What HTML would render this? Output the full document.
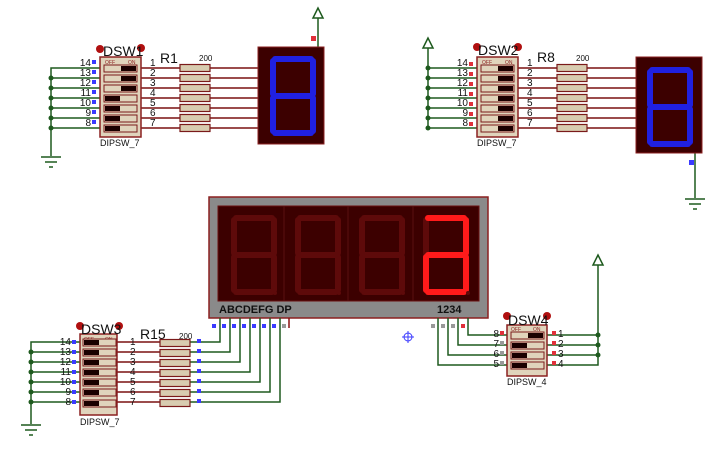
<!DOCTYPE html>
<html><head><meta charset="utf-8"><style>
html,body{margin:0;padding:0;background:#fff;width:720px;height:449px;overflow:hidden}
svg{display:block}
text{font-family:"Liberation Sans",sans-serif}
</style></head><body>
<svg width="720" height="449" viewBox="0 0 720 449" xmlns="http://www.w3.org/2000/svg">
<defs>
<g id="seg" fill="none" stroke-linecap="round">
<line x1="2" y1="0" x2="38" y2="0"/><line x1="40" y1="2" x2="40" y2="35"/><line x1="40" y1="39" x2="40" y2="72"/>
<line x1="2" y1="74" x2="38" y2="74"/><line x1="0" y1="39" x2="0" y2="72"/><line x1="0" y1="2" x2="0" y2="35"/>
<line x1="2" y1="37" x2="38" y2="37"/>
</g>
<g id="slotOn"><rect x="0" y="0" width="33" height="7" fill="#e0d4bc" stroke="#7a1a1a" stroke-width="1"/><rect x="17" y="1" width="15" height="5" fill="#1a0000"/></g>
<g id="slotOff"><rect x="0" y="0" width="33" height="7" fill="#e0d4bc" stroke="#7a1a1a" stroke-width="1"/><rect x="1" y="1" width="15" height="5" fill="#1a0000"/></g>
<g id="res"><rect x="0" y="-3.5" width="30" height="7" fill="#d8ccb0" stroke="#7a1a1a" stroke-width="1.2"/></g>
<g id="gnd" stroke="#1e5a1e" stroke-width="1.5"><line x1="-10" y1="0" x2="10" y2="0"/><line x1="-6" y1="5" x2="6" y2="5"/><line x1="-2" y1="10" x2="2" y2="10"/></g>
<g id="pwr" fill="none" stroke="#1e5a1e" stroke-width="1.5"><polygon points="0,-10 -5,0 5,0"/></g>
</defs>

<!-- ========== GROUP 1 ========== -->
<g stroke="#1e5a1e" stroke-width="1.5" fill="none">
<polyline points="100,68 51,68 51,156"/>
<line x1="51" y1="78" x2="100" y2="78"/><line x1="51" y1="88" x2="100" y2="88"/><line x1="51" y1="98" x2="100" y2="98"/>
<line x1="51" y1="108" x2="100" y2="108"/><line x1="51" y1="118" x2="100" y2="118"/><line x1="51" y1="128" x2="100" y2="128"/>
<line x1="318" y1="18" x2="318" y2="47"/>
</g>
<g fill="#1e5a1e"><circle cx="51" cy="78" r="2.5"/><circle cx="51" cy="88" r="2.5"/><circle cx="51" cy="98" r="2.5"/><circle cx="51" cy="108" r="2.5"/><circle cx="51" cy="118" r="2.5"/><circle cx="51" cy="128" r="2.5"/></g>
<use href="#gnd" x="51" y="157"/>
<use href="#pwr" x="318" y="18"/>
<rect x="311" y="36" width="5" height="5" fill="#e0303a"/>
<g stroke="#7a1010" stroke-width="1.5">
<line x1="141" y1="68" x2="258" y2="68"/><line x1="141" y1="78" x2="258" y2="78"/><line x1="141" y1="88" x2="258" y2="88"/>
<line x1="141" y1="98" x2="258" y2="98"/><line x1="141" y1="108" x2="258" y2="108"/><line x1="141" y1="118" x2="258" y2="118"/><line x1="141" y1="128" x2="258" y2="128"/>
</g>
<rect x="100" y="57" width="41" height="80" fill="#e0d4bc" stroke="#8b2020" stroke-width="1.5"/>
<text x="105" y="64" font-size="5" fill="#8b2020">OFF</text><text x="128" y="64" font-size="5" fill="#8b2020">ON</text>
<use href="#slotOn" x="104" y="65"/><use href="#slotOn" x="104" y="75"/><use href="#slotOn" x="104" y="85"/>
<use href="#slotOff" x="104" y="95"/><use href="#slotOff" x="104" y="105"/><use href="#slotOff" x="104" y="115"/><use href="#slotOff" x="104" y="125"/>
<circle cx="100" cy="49" r="4" fill="#b01010"/><circle cx="141" cy="48" r="4" fill="#b01010"/>
<text x="103" y="56" font-size="14" fill="#111">DSW1</text>
<text x="160" y="63" font-size="14" fill="#111">R1</text>
<text x="199" y="61" font-size="8" fill="#111">200</text>
<text x="100" y="146" font-size="9" fill="#111">DIPSW_7</text>
<g font-size="10" fill="#111" text-anchor="end">
<text x="91" y="66">14</text><text x="91" y="76">13</text><text x="91" y="86">12</text><text x="91" y="96">11</text><text x="91" y="106">10</text><text x="91" y="116">9</text><text x="91" y="126">8</text>
</g>
<g fill="#3a3aff"><rect x="92" y="60" width="4" height="4"/><rect x="92" y="70" width="4" height="4"/><rect x="92" y="80" width="4" height="4"/><rect x="92" y="90" width="4" height="4"/><rect x="92" y="100" width="4" height="4"/><rect x="92" y="110" width="4" height="4"/><rect x="92" y="120" width="4" height="4"/></g>
<g font-size="10" fill="#111">
<text x="150" y="66">1</text><text x="150" y="76">2</text><text x="150" y="86">3</text><text x="150" y="96">4</text><text x="150" y="106">5</text><text x="150" y="116">6</text><text x="150" y="126">7</text>
</g>
<use href="#res" x="180" y="68"/><use href="#res" x="180" y="78"/><use href="#res" x="180" y="88"/><use href="#res" x="180" y="98"/><use href="#res" x="180" y="108"/><use href="#res" x="180" y="118"/><use href="#res" x="180" y="128"/>
<rect x="258" y="47" width="66" height="97" fill="#3c0000" stroke="#8b2020" stroke-width="1"/>
<use href="#seg" x="273" y="59" stroke="#2020e0" stroke-width="6"/>

<!-- ========== GROUP 2 ========== -->
<g stroke="#1e5a1e" stroke-width="1.5" fill="none">
<polyline points="477,68 428,68 428,128 477,128"/>
<line x1="428" y1="48" x2="428" y2="68"/>
<line x1="428" y1="78" x2="477" y2="78"/><line x1="428" y1="88" x2="477" y2="88"/><line x1="428" y1="98" x2="477" y2="98"/>
<line x1="428" y1="108" x2="477" y2="108"/><line x1="428" y1="118" x2="477" y2="118"/>
<line x1="695" y1="150" x2="695" y2="198"/>
</g>
<g fill="#1e5a1e"><circle cx="428" cy="68" r="2.5"/><circle cx="428" cy="78" r="2.5"/><circle cx="428" cy="88" r="2.5"/><circle cx="428" cy="98" r="2.5"/><circle cx="428" cy="108" r="2.5"/><circle cx="428" cy="118" r="2.5"/><circle cx="428" cy="128" r="2.5"/></g>
<use href="#pwr" x="428" y="48"/>
<use href="#gnd" x="695" y="199"/>
<rect x="689" y="160" width="5" height="5" fill="#3a3aff"/>
<g stroke="#7a1010" stroke-width="1.5">
<line x1="517" y1="68" x2="636" y2="68"/><line x1="517" y1="78" x2="636" y2="78"/><line x1="517" y1="88" x2="636" y2="88"/>
<line x1="517" y1="98" x2="636" y2="98"/><line x1="517" y1="108" x2="636" y2="108"/><line x1="517" y1="118" x2="636" y2="118"/><line x1="517" y1="128" x2="636" y2="128"/>
</g>
<rect x="477" y="57" width="41" height="80" fill="#e0d4bc" stroke="#8b2020" stroke-width="1.5"/>
<text x="482" y="64" font-size="5" fill="#8b2020">OFF</text><text x="505" y="64" font-size="5" fill="#8b2020">ON</text>
<use href="#slotOn" x="481" y="65"/><use href="#slotOn" x="481" y="75"/><use href="#slotOn" x="481" y="85"/>
<use href="#slotOn" x="481" y="95"/><use href="#slotOn" x="481" y="105"/><use href="#slotOn" x="481" y="115"/><use href="#slotOn" x="481" y="125"/>
<circle cx="477" cy="47" r="4" fill="#b01010"/><circle cx="518" cy="47" r="4" fill="#b01010"/>
<text x="478" y="55" font-size="14" fill="#111">DSW2</text>
<text x="537" y="62" font-size="14" fill="#111">R8</text>
<text x="576" y="61" font-size="8" fill="#111">200</text>
<text x="477" y="146" font-size="9" fill="#111">DIPSW_7</text>
<g font-size="10" fill="#111" text-anchor="end">
<text x="468" y="66">14</text><text x="468" y="76">13</text><text x="468" y="86">12</text><text x="468" y="96">11</text><text x="468" y="106">10</text><text x="468" y="116">9</text><text x="468" y="126">8</text>
</g>
<g fill="#e0303a"><rect x="469" y="62" width="4" height="4"/><rect x="469" y="72" width="4" height="4"/><rect x="469" y="82" width="4" height="4"/><rect x="469" y="92" width="4" height="4"/><rect x="469" y="102" width="4" height="4"/><rect x="469" y="112" width="4" height="4"/><rect x="469" y="122" width="4" height="4"/></g>
<g font-size="10" fill="#111">
<text x="527" y="66">1</text><text x="527" y="76">2</text><text x="527" y="86">3</text><text x="527" y="96">4</text><text x="527" y="106">5</text><text x="527" y="116">6</text><text x="527" y="126">7</text>
</g>
<use href="#res" x="557" y="68"/><use href="#res" x="557" y="78"/><use href="#res" x="557" y="88"/><use href="#res" x="557" y="98"/><use href="#res" x="557" y="108"/><use href="#res" x="557" y="118"/><use href="#res" x="557" y="128"/>
<rect x="636" y="57" width="66" height="96" fill="#3c0000" stroke="#8b2020" stroke-width="1"/>
<use href="#seg" x="650" y="70" stroke="#2020e0" stroke-width="6"/>

<!-- ========== 4-DIGIT DISPLAY ========== -->
<rect x="209" y="197" width="279" height="121" fill="#8a8a8a" stroke="#8b2020" stroke-width="1.5"/>
<rect x="218" y="206" width="261" height="95" fill="#3c0000" stroke="#6a1010" stroke-width="1"/>
<g stroke="#5a1010" stroke-width="1"><line x1="284" y1="206" x2="284" y2="301"/><line x1="348" y1="206" x2="348" y2="301"/><line x1="413" y1="206" x2="413" y2="301"/></g>
<use href="#seg" x="234" y="218" stroke="#5e0a0a" stroke-width="6"/>
<use href="#seg" x="298" y="218" stroke="#5e0a0a" stroke-width="6"/>
<use href="#seg" x="362" y="218" stroke="#5e0a0a" stroke-width="6"/>
<use href="#seg" x="426" y="218" stroke="#5e0a0a" stroke-width="6"/>
<g stroke="#ff1a1a" stroke-width="6" fill="none" stroke-linecap="round" transform="translate(426,218)">
<line x1="2" y1="0" x2="38" y2="0"/><line x1="40" y1="2" x2="40" y2="35"/><line x1="40" y1="39" x2="40" y2="72"/>
<line x1="2" y1="74" x2="38" y2="74"/><line x1="0" y1="39" x2="0" y2="72"/><line x1="2" y1="37" x2="38" y2="37"/>
</g>
<g fill="#5e0a0a"><circle cx="275" cy="293" r="2"/><circle cx="339" cy="293" r="2"/><circle cx="403" cy="293" r="2"/><circle cx="468" cy="293" r="2"/></g>
<text x="219" y="313" font-size="11" font-weight="bold" fill="#111">ABCDEFG  DP</text>
<text x="437" y="313" font-size="11" font-weight="bold" fill="#111">1234</text>

<!-- ========== GROUP 3 ========== -->
<g stroke="#1e5a1e" stroke-width="1.5" fill="none">
<polyline points="80,342 31,342 31,424"/>
<line x1="31" y1="352" x2="80" y2="352"/><line x1="31" y1="362" x2="80" y2="362"/><line x1="31" y1="372" x2="80" y2="372"/>
<line x1="31" y1="382" x2="80" y2="382"/><line x1="31" y1="392" x2="80" y2="392"/><line x1="31" y1="402" x2="80" y2="402"/>
<polyline points="190,342 220,342 220,318"/><polyline points="190,352 230,352 230,318"/><polyline points="190,362 240,362 240,318"/>
<polyline points="190,372 250,372 250,318"/><polyline points="190,382 260,382 260,318"/><polyline points="190,392 270,392 270,318"/>
<polyline points="190,402 280,402 280,318"/>
</g>
<line x1="289" y1="318" x2="289" y2="328" stroke="#8b1010" stroke-width="1.5"/>
<g fill="#1e5a1e"><circle cx="31" cy="352" r="2.5"/><circle cx="31" cy="362" r="2.5"/><circle cx="31" cy="372" r="2.5"/><circle cx="31" cy="382" r="2.5"/><circle cx="31" cy="392" r="2.5"/><circle cx="31" cy="402" r="2.5"/></g>
<use href="#gnd" x="31" y="425"/>
<g stroke="#7a1010" stroke-width="1.5">
<line x1="117" y1="342" x2="160" y2="342"/><line x1="117" y1="352" x2="160" y2="352"/><line x1="117" y1="362" x2="160" y2="362"/>
<line x1="117" y1="372" x2="160" y2="372"/><line x1="117" y1="382" x2="160" y2="382"/><line x1="117" y1="392" x2="160" y2="392"/><line x1="117" y1="402" x2="160" y2="402"/>
</g>
<rect x="80" y="334" width="37" height="81" fill="#e0d4bc" stroke="#8b2020" stroke-width="1.5"/>
<text x="84" y="341" font-size="5" fill="#8b2020">OFF</text><text x="105" y="341" font-size="5" fill="#8b2020">ON</text>
<use href="#slotOff" x="83" y="339"/><use href="#slotOff" x="83" y="349"/><use href="#slotOff" x="83" y="359"/>
<use href="#slotOff" x="83" y="369"/><use href="#slotOff" x="83" y="379"/><use href="#slotOff" x="83" y="389"/><use href="#slotOff" x="83" y="400"/>
<circle cx="80" cy="326" r="4" fill="#b01010"/><circle cx="119" cy="326" r="4" fill="#b01010"/>
<text x="81" y="334" font-size="14" fill="#111">DSW3</text>
<text x="140" y="339" font-size="14" fill="#111">R15</text>
<text x="179" y="339" font-size="8" fill="#111">200</text>
<text x="80" y="425" font-size="9" fill="#111">DIPSW_7</text>
<g font-size="10" fill="#111" text-anchor="end">
<text x="71" y="345">14</text><text x="71" y="355">13</text><text x="71" y="365">12</text><text x="71" y="375">11</text><text x="71" y="385">10</text><text x="71" y="395">9</text><text x="71" y="405">8</text>
</g>
<g fill="#3a3aff"><rect x="72" y="340" width="4" height="4"/><rect x="72" y="350" width="4" height="4"/><rect x="72" y="360" width="4" height="4"/><rect x="72" y="370" width="4" height="4"/><rect x="72" y="380" width="4" height="4"/><rect x="72" y="390" width="4" height="4"/><rect x="72" y="400" width="4" height="4"/></g>
<g font-size="10" fill="#111">
<text x="130" y="345">1</text><text x="130" y="355">2</text><text x="130" y="365">3</text><text x="130" y="375">4</text><text x="130" y="385">5</text><text x="130" y="395">6</text><text x="130" y="405">7</text>
</g>
<use href="#res" x="160" y="343"/><use href="#res" x="160" y="353"/><use href="#res" x="160" y="363"/><use href="#res" x="160" y="373"/><use href="#res" x="160" y="383"/><use href="#res" x="160" y="393"/><use href="#res" x="160" y="403"/>
<g fill="#3a3aff">
<rect x="197" y="339" width="4" height="4"/><rect x="197" y="349" width="4" height="4"/><rect x="197" y="359" width="4" height="4"/><rect x="197" y="369" width="4" height="4"/><rect x="197" y="379" width="4" height="4"/><rect x="197" y="389" width="4" height="4"/><rect x="197" y="399" width="4" height="4"/>
<rect x="212" y="324" width="4" height="4"/><rect x="222" y="324" width="4" height="4"/><rect x="232" y="324" width="4" height="4"/><rect x="242" y="324" width="4" height="4"/><rect x="252" y="324" width="4" height="4"/><rect x="262" y="324" width="4" height="4"/><rect x="272" y="324" width="4" height="4"/>
</g>
<rect x="282" y="324" width="4" height="4" fill="#999"/>

<!-- ========== GROUP 4 ========== -->
<g stroke="#1e5a1e" stroke-width="1.5" fill="none">
<polyline points="468,318 468,335 507,335"/><polyline points="458,318 458,345 507,345"/>
<polyline points="448,318 448,355 507,355"/><polyline points="438,318 438,365 507,365"/>
<polyline points="547,335 598,335"/><polyline points="547,345 598,345"/><polyline points="547,355 598,355"/><polyline points="547,365 598,365 598,265"/>
</g>
<use href="#pwr" x="598" y="265"/>
<g fill="#1e5a1e"><circle cx="598" cy="335" r="2.5"/><circle cx="598" cy="345" r="2.5"/><circle cx="598" cy="355" r="2.5"/></g>
<g fill="#999"><rect x="431" y="324" width="4" height="4"/><rect x="441" y="324" width="4" height="4"/><rect x="451" y="324" width="4" height="4"/></g>
<rect x="461" y="324" width="4" height="4" fill="#e0303a"/>
<rect x="507" y="325" width="40" height="51" fill="#e0d4bc" stroke="#8b2020" stroke-width="1.5"/>
<text x="511" y="331" font-size="5" fill="#8b2020">OFF</text><text x="533" y="331" font-size="5" fill="#8b2020">ON</text>
<use href="#slotOn" x="511" y="332"/><use href="#slotOff" x="511" y="342"/><use href="#slotOff" x="511" y="352"/><use href="#slotOff" x="511" y="362"/>
<circle cx="507" cy="316" r="4" fill="#b01010"/><circle cx="547" cy="316" r="4" fill="#b01010"/>
<text x="508" y="325" font-size="14" fill="#111">DSW4</text>
<text x="507" y="385" font-size="9" fill="#111">DIPSW_4</text>
<g font-size="10" fill="#111" text-anchor="end"><text x="499" y="337">8</text><text x="499" y="347">7</text><text x="499" y="357">6</text><text x="499" y="367">5</text></g>
<g fill="#999"><rect x="500" y="341" width="4" height="4"/><rect x="500" y="351" width="4" height="4"/><rect x="500" y="361" width="4" height="4"/></g>
<rect x="500" y="331" width="4" height="4" fill="#e0303a"/>
<g fill="#e0303a"><rect x="552" y="331" width="4" height="4"/><rect x="552" y="341" width="4" height="4"/><rect x="552" y="351" width="4" height="4"/><rect x="552" y="361" width="4" height="4"/></g>
<g font-size="10" fill="#111"><text x="558" y="337">1</text><text x="558" y="347">2</text><text x="558" y="357">3</text><text x="558" y="367">4</text></g>

<!-- crosshair -->
<g stroke="#3a3aff" stroke-width="1" fill="none"><circle cx="408" cy="337" r="4"/><line x1="402" y1="337" x2="414" y2="337"/><line x1="408" y1="331" x2="408" y2="343"/></g>
</svg>
</body></html>
